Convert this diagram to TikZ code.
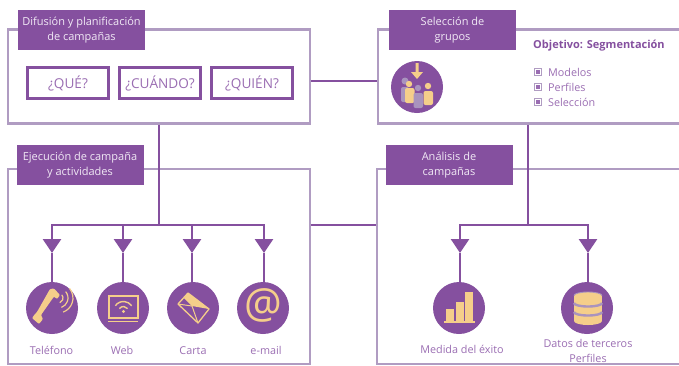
\documentclass[tikz,border=0pt]{standalone}
\usepackage{fontspec}
\setmainfont{Open Sans}
\usetikzlibrary{arrows.meta}
\definecolor{pur}{HTML}{85509F}
\definecolor{txt}{HTML}{9A6DB2}
\definecolor{fr}{HTML}{B09CC2}
\definecolor{ora}{HTML}{F5CE8A}
\definecolor{gry}{HTML}{A993BE}
\definecolor{tabt}{HTML}{F1E9F5}
\tikzset{
 panel/.style={draw=fr,line width=2.6pt,fill=none,inner sep=0pt},
 tabbox/.style={fill=pur,text=tabt,inner sep=0pt,minimum width=127pt,minimum height=40pt,align=center,font=\fontsize{11}{15}\selectfont},
 ask/.style={draw=pur,line width=2.8pt,fill=white,text=txt,inner sep=0pt,minimum width=81pt,minimum height=31pt,font=\fontsize{13.6}{15}\selectfont},
 conn/.style={draw=pur,line width=2.6pt},
 head/.style={conn,-{Triangle[width=18pt,length=14pt,fill=pur]}},
 disc/.style={circle,fill=pur,inner sep=0pt,minimum size=52pt},
 captxt/.style={text=txt,inner sep=0pt,align=center,font=\fontsize{10.8}{15}\selectfont},
 listitem/.style={text=txt,inner sep=0pt,anchor=west,font=\fontsize{10.8}{15}\selectfont},
 bul/.style={draw=fr,fill=white,line width=.9pt,inner sep=0pt,minimum size=6.5pt},
}
\begin{document}
\begin{tikzpicture}[x=1pt,y=-1pt]
\useasboundingbox (0,0) rectangle (679,365);
% panels
\node[panel,minimum width=302pt,minimum height=94pt] (b1) at (159,76.5) {};
\node[panel,minimum width=306pt,minimum height=94pt] (b2) at (531,76.5) {};
\node[panel,minimum width=302pt,minimum height=195pt] (b3) at (159,266.5) {};
\node[panel,minimum width=306pt,minimum height=195pt] (b4) at (530,266.5) {};
% tabs
\node[tabbox] (t1) at (81.5,30) {Difusión y planificación\\de campañas};
\node[tabbox] (t2) at (452.5,30) {Selección de\\grupos};
\node[tabbox] (t3) at (80,165) {Ejecución de campaña\\y actividades};
\node[tabbox] (t4) at (449,165) {Análisis de\\campañas};
% questions
\node[ask] (q1) at (68,83) {¿QUÉ?};
\node[ask] (q2) at (160,83) {¿CUÁNDO?};
\node[ask] (q3) at (252,83) {¿QUIÉN?};
% discs
\node[disc] (d1) at (52,308) {};
\node[disc] (d2) at (123,308) {};
\node[disc] (d3) at (193,308) {};
\node[disc] (d4) at (263,308) {};
\node[disc] (d5) at (459,308) {};
\node[disc] (d6) at (587,308) {};
\node[disc] (d7) at (417,87) {};
% routing coordinates
\coordinate (row1) at (344,81);
\coordinate (row2) at (344,225);
\coordinate (busL) at (159,225);
\coordinate (busR) at (528,225);
\coordinate (j1) at (52,225);
\coordinate (j2) at (123,225);
\coordinate (j3) at (192,225);
\coordinate (j4) at (264,225);
\coordinate (j5) at (460,225);
\coordinate (j6) at (588,225);
\foreach \n/\xx/\yy in {a1/52/253,a2/123/253,a3/192/253,a4/264/253,a5/460/253,a6/588/253}
  \coordinate (\n) at (\xx,\yy);
% connectors
\draw[conn] (b1.east|-row1) -- (b2.west|-row1);
\draw[conn] (b3.east|-row2) -- (b4.west|-row2);
\draw[conn] (b1.south) -- (busL);
\draw[conn] (b2.south-|busR) -- (busR);
\draw[conn,line cap=rect] (j1) -- (j4);
\draw[conn,line cap=rect] (j5) -- (j6);
\foreach \i/\dd in {1/d1,2/d2,3/d3,4/d4,5/d5,6/d6}{
  \draw[head] (j\i) -- (a\i);
  \draw[conn] (a\i) -- (a\i|-\dd.north);
}
% captions
\node[captxt,anchor=base] (c1) at (51.5,354) {Teléfono};
\node[captxt,anchor=base] (c2) at (122,354) {Web};
\node[captxt,anchor=base] (c3) at (193,354) {Carta};
\node[captxt,anchor=base] (c4) at (266,354) {e-mail};
\node[captxt,anchor=base] (c5) at (462,353) {Medida del éxito};
\node[captxt] (c6) at (588,350.5) {Datos de terceros\\Perfiles};
% objective
\node[text=pur,inner sep=0pt,anchor=west,font=\fontsize{11}{15}\bfseries\selectfont] (o) at (533,46) {Objetivo: Segmentación};
\foreach \yy/\lab/\nm in {72/Modelos/l1,87/Perfiles/l2,102/Selección/l3}{
  \node[bul] (\nm b) at (538,\yy) {};
  \fill[txt] (536.3,\yy-1.7) rectangle (539.7,\yy+1.7);
  \node[listitem] (\nm) at (548,\yy) {\lab};
}
% phone
\fill[ora,rounded corners=1pt] (50,289) -- (54,288.5) -- (60,295) -- (57,299) -- (54,296.5) -- (41,315) -- (43,319) -- (39,324) -- (32,318) -- (35,314) -- (37,312) -- cycle;
\foreach \r in {5,10,15}
  \draw[ora,line width=1.2pt] (58,298) ++(-40:\r) arc[start angle=-40,end angle=70,radius=\r];
% web
\draw[ora,line width=2pt] (109,295.5) rectangle (137.5,318);
\draw[ora,line width=1.2pt] (108,321.5) -- (138,321.5);
\foreach \r in {5,10}
  \draw[ora,line width=1.4pt] (123.5,311.5) ++(215:\r) arc[start angle=215,end angle=325,radius=\r];
\fill[ora] (123.5,311.5) circle (1.6);
% letter
\draw[ora,line width=1.3pt,line join=round] (188,293) -- (209,309) -- (198,323) -- (178,304) -- cycle;
\fill[ora] (188,293) -- (209,309) -- (192,306) -- (184,298) -- cycle;
\draw[ora,line width=1pt] (178,304) -- (192,306) -- (198,323);
% at sign
\node[text=ora,inner sep=0pt,font=\fontsize{42}{42}\selectfont] (atsign) at (263,305) {@};
% bars
\fill[ora] (444,321) rectangle (475,323);
\fill[ora] (446,309) rectangle (454,322);
\fill[ora] (456,302) rectangle (464,322);
\fill[ora] (465,292) rectangle (473,322);
% database
\fill[ora] (574,296) rectangle (602,321);
\fill[ora] (588,321) ellipse [x radius=14,y radius=4];
\fill[ora] (588,296) ellipse [x radius=14,y radius=4];
\draw[gry,line width=.9pt] (574,295.5) arc[start angle=180,end angle=360,x radius=14,y radius=3.5];
\draw[gry,line width=2.4pt] (574,303) arc[start angle=180,end angle=0,x radius=14,y radius=3.5];
\draw[gry,line width=2.4pt] (574,312) arc[start angle=180,end angle=0,x radius=14,y radius=3.5];
% group
\fill[gry] (405,81) circle (3.5);
\fill[gry,rounded corners=2pt] (401,87) rectangle (409,102);
\fill[ora] (409,84) circle (3.2);
\fill[ora,rounded corners=2pt] (405,88) rectangle (414.5,103);
\fill[gry] (418,88) circle (3.2);
\fill[gry,rounded corners=2pt] (413.5,93) rectangle (423,108);
\fill[ora] (428,86) circle (3.2);
\fill[ora,rounded corners=2pt] (423.5,91) rectangle (433,105);
\fill[ora] (415.5,63) -- (418.5,63) -- (418.5,72) -- (423,72) -- (417,79) -- (411,72) -- (415.5,72) -- cycle;
\end{tikzpicture}
\end{document}
